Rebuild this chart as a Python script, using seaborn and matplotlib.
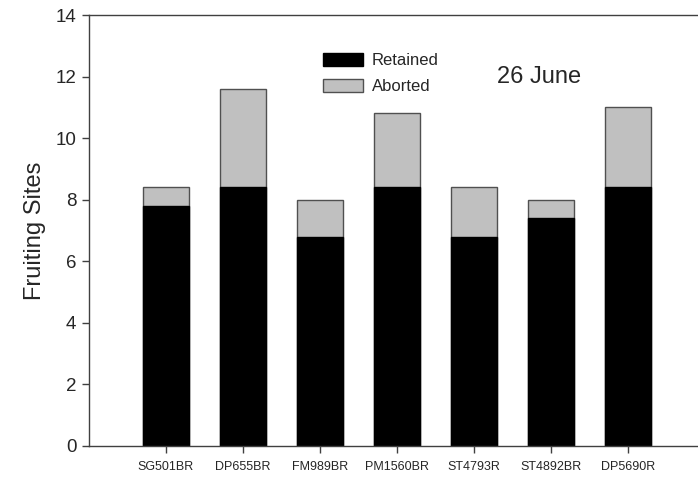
import pandas as pd
import seaborn as sns
import matplotlib.pyplot as plt
from matplotlib.patches import Patch

cultivars = ['SG501BR', 'DP655BR', 'FM989BR', 'PM1560BR', 'ST4793R', 'ST4892BR', 'DP5690R']
retained = [7.8, 8.4, 6.8, 8.4, 6.8, 7.4, 8.4]
total = [8.4, 11.6, 8.0, 10.8, 8.4, 8.0, 11.0]


def main():
    df = pd.DataFrame({'Cultivar': cultivars, 'Retained': retained, 'Total': total})
    df['Aborted'] = df['Total'] - df['Retained']

    sns.set_theme(style='white')
    plt.rcParams['font.family'] = ['Liberation Sans', 'DejaVu Sans']

    fig = plt.figure(figsize=(6.98, 4.79), dpi=100)
    ax = fig.add_axes([89 / 698, 33.3 / 479, 616 / 698, 430.7 / 479])

    # gray = total height (aborted on top), black = retained drawn over it
    sns.barplot(data=df, x='Cultivar', y='Total', color='#c0c0c0', width=0.6,
                edgecolor='#505050', linewidth=1.0, saturation=1, ax=ax)
    sns.barplot(data=df, x='Cultivar', y='Retained', color='black', width=0.6,
                edgecolor='black', linewidth=1.0, saturation=1, ax=ax)

    ax.set_xlim(-1, 7)
    ax.set_ylim(0, 14)
    ax.set_yticks(range(0, 15, 2))
    ax.set_xlabel('')
    ax.set_ylabel('Fruiting Sites', fontsize=17, labelpad=7)

    for side in ['left', 'bottom', 'top']:
        ax.spines[side].set_color('#404040')
        ax.spines[side].set_linewidth(1.0)
    ax.spines['right'].set_visible(False)

    ax.tick_params(axis='y', which='major', direction='out', length=5, width=1,
                   color='#404040', labelsize=13.5, left=True, pad=4)
    ax.tick_params(axis='x', which='major', direction='out', length=5, width=1,
                   color='#404040', labelsize=9, bottom=True, pad=6)

    fs = 12
    px = fs * 100 / 72
    handles = [Patch(facecolor='black', edgecolor='black', label='Retained'),
               Patch(facecolor='#c0c0c0', edgecolor='#505050', label='Aborted')]
    fig.legend(handles=handles, loc='upper left', bbox_to_anchor=(323 / 698, 1 - 53 / 479),
               frameon=False, fontsize=fs, handlelength=40 / px, handleheight=13 / px,
               handletextpad=9 / px, labelspacing=0.68, borderpad=0, borderaxespad=0)

    fig.text(497 / 698, 1 - 77 / 479, '26 June', fontsize=17, va='center', ha='left')

    fig.savefig('out.png', dpi=100)


if __name__ == '__main__':
    main()
